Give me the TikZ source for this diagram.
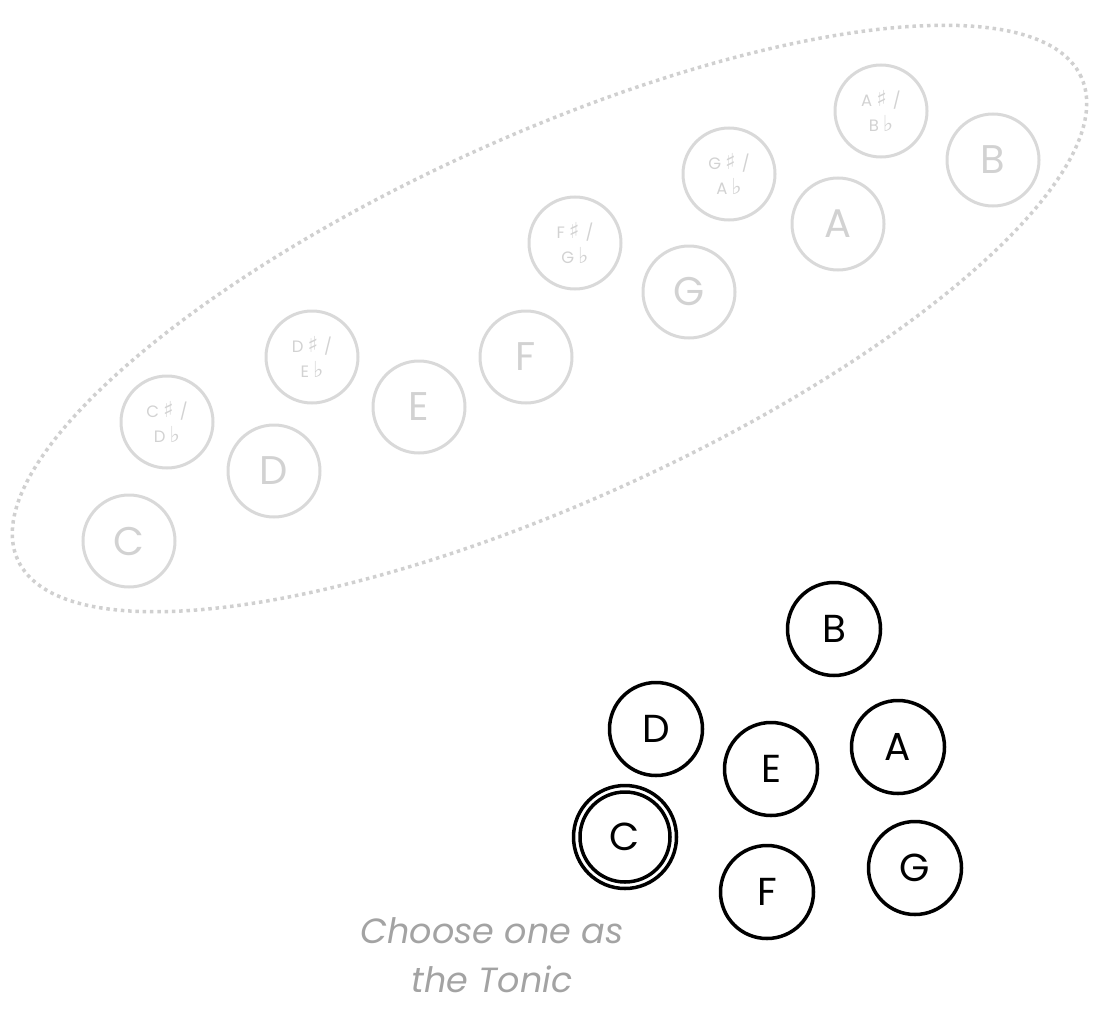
\documentclass[tikz,border=0pt]{standalone}
\usepackage{fontspec}
\setmainfont{Poppins}
\newfontfamily\sym{DejaVu Sans}
\definecolor{lgray}{HTML}{D9D9D9}
\definecolor{dotgray}{HTML}{D0D0D0}
\definecolor{tgray}{HTML}{D2D2D2}
\definecolor{dgray}{HTML}{A3A3A3}
\tikzset{
  graynote/.style={circle, draw=lgray, line width=3pt, minimum size=92pt, inner sep=0pt,
    text=tgray, font=\fontsize{40}{48}\selectfont},
  grayacc/.style={graynote, font=\fontsize{16.5}{25}\selectfont, align=center},
  blacknote/.style={circle, draw=black, line width=3.5pt, minimum size=93pt, inner sep=0pt,
    text=black, font=\fontsize{39}{48}\selectfont},
  dotline/.style={draw=dotgray, line width=3.5pt, dash pattern=on 3.5pt off 3.8pt},
}
\newcommand{\shp}{{\sym\fontsize{22}{25}\selectfont\char"266F}}
\newcommand{\flt}{{\sym\fontsize{22}{25}\selectfont\char"266D}}
\begin{document}
\begin{tikzpicture}[x=1pt,y=-1pt]
\useasboundingbox (0,0) rectangle (1107,1030);
\draw[dotline, shift={(549.5,318.5)}, rotate=24.4] (0,0) ellipse [x radius=584pt, y radius=183pt];
% gray chromatic notes
\node[graynote] (gC) at (129,541) {C};
\node[grayacc] (gCs) at (167,422) {C\hspace{4pt}\shp\hspace{6pt}/\\D\hspace{4pt}\flt};
\node[graynote] (gD) at (274,471) {D};
\node[grayacc] (gDs) at (312,357) {D\hspace{4pt}\shp\hspace{6pt}/\\E\hspace{4pt}\flt};
\node[graynote] (gE) at (419,407) {E};
\node[graynote] (gF) at (526,357) {F};
\node[grayacc] (gFs) at (575,243) {F\hspace{4pt}\shp\hspace{6pt}/\\G\hspace{4pt}\flt};
\node[graynote] (gG) at (689,292) {G};
\node[grayacc] (gGs) at (729,174) {G\hspace{4pt}\shp\hspace{6pt}/\\A\hspace{4pt}\flt};
\node[graynote] (gA) at (838,224) {A};
\node[grayacc] (gAs) at (881,111) {A\hspace{4pt}\shp\hspace{6pt}/\\B\hspace{4pt}\flt};
\node[graynote] (gB) at (993,160) {B};
% black diatonic notes
\node[blacknote] (bB) at (834,629) {B};
\node[blacknote] (bD) at (656,729) {D};
\node[blacknote] (bE) at (771,769) {E};
\node[blacknote] (bA) at (898,747) {A};
\node[blacknote, minimum size=90pt] (bC) at (625,837) {C};
\draw[black, line width=3.5pt] (bC.center) circle [radius=51.5pt];
\node[blacknote] (bG) at (915,868) {G};
\node[blacknote] (bF) at (767,892) {F};
\node[text=dgray, font=\fontsize{35}{49}\selectfont\itshape, align=center] (tonic) at (492,955) {Choose one as\\the Tonic};
\end{tikzpicture}
\end{document}
